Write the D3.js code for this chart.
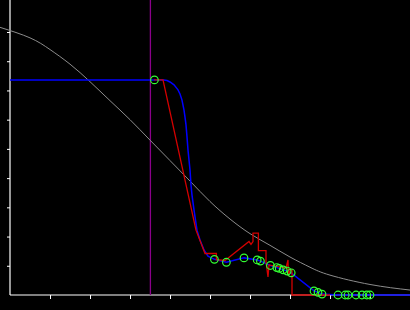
<!DOCTYPE html>
<html>
<head>
<meta charset="utf-8">
<script src="https://cdn.jsdelivr.net/npm/d3@7"></script>
<style>
  body { margin: 0; background: #000; }
  svg { display: block; }
</style>
</head>
<body>
<script>
// data (axis units: x 0..10, y 0..9)
var xTicks = [1, 2, 3, 4, 5, 6, 7, 8, 9];
var yTicks = [1, 2, 3, 4, 5, 6, 7, 8, 9];

var cutX = 3.51;

var grayX = [-0.25, 0.5, 1.0, 1.5, 2.0, 2.5, 3.0, 3.5, 4.0, 4.5, 5.0, 5.5, 6.0, 6.5, 7.0, 7.5, 8.0, 9.0, 10.0];
var grayY = [9.16, 8.8, 8.4, 7.9, 7.3, 6.65, 6.0, 5.3, 4.6, 3.9, 3.2, 2.6, 2.1, 1.7, 1.3, 0.95, 0.68, 0.36, 0.17];

var blueX = [0, 3.85, 3.925, 4.0, 4.1, 4.2, 4.25, 4.3, 4.325, 4.35, 4.375, 4.4, 4.425, 4.45, 4.475, 4.5, 4.525, 4.55, 4.6, 4.675, 4.75, 4.85, 4.95,
  5.11, 5.41, 5.85, 6.18, 6.26, 6.51, 6.67, 6.73, 6.83, 6.93, 7.03, 7.6, 7.7, 7.8, 8.2, 8.38, 8.45, 8.65, 8.8, 8.92, 9.0, 10.0];
var blueY = [7.36, 7.36, 7.34, 7.29, 7.19, 7.02, 6.88, 6.67, 6.50, 6.33, 6.09, 5.82, 5.41, 4.96, 4.62, 4.28, 3.76, 3.42, 2.91, 2.22, 1.88, 1.54, 1.33,
  1.22, 1.12, 1.27, 1.20, 1.16, 1.01, 0.94, 0.91, 0.86, 0.82, 0.76, 0.14, 0.09, 0.03, 0, 0, 0, 0, 0, 0, 0, 0];

var redX = [3.6, 3.825, 4.65, 4.875, 5.16, 5.16, 5.375, 5.975, 6.025, 6.075, 6.075, 6.21, 6.21, 6.4, 6.4, 6.45, 6.475, 6.9, 6.95, 6.96, 7.0, 7.05, 7.05, 8.0];
var redY = [7.36, 7.36, 2.22, 1.42, 1.42, 1.21, 1.18, 1.83, 1.73, 1.83, 2.12, 2.12, 1.52, 1.52, 1.13, 0.62, 1.03, 0.92, 1.20, 0.65, 0.86, 0.86, 0, 0];

var markX = [3.61, 5.11, 5.41, 5.85, 6.18, 6.26, 6.51, 6.67, 6.73, 6.83, 6.93, 7.03, 7.6, 7.7, 7.8, 8.2, 8.38, 8.45, 8.65, 8.8, 8.92, 9.0];
var markY = [7.36, 1.22, 1.12, 1.27, 1.20, 1.16, 1.01, 0.94, 0.91, 0.86, 0.82, 0.76, 0.14, 0.09, 0.03, 0, 0, 0, 0, 0, 0, 0];

var width = 410, height = 310;

var svg = d3.select("body").append("svg")
  .attr("width", width)
  .attr("height", height);

svg.append("rect").attr("width", width).attr("height", height).attr("fill", "#000");

var x = d3.scaleLinear().domain([0, 10]).range([10, 410]);
var y = d3.scaleLinear().domain([0, 9]).range([295, 32]);

// axes
var xAxis = svg.append("g")
  .attr("transform", "translate(0," + y(0) + ")")
  .call(d3.axisBottom(x).tickValues(xTicks).tickSize(4).tickFormat(""));
var yAxis = svg.append("g")
  .attr("transform", "translate(" + x(0) + ",0)")
  .call(d3.axisLeft(y).tickValues(yTicks).tickSize(3).tickFormat(""));
svg.selectAll(".domain").remove();
svg.selectAll(".tick line").attr("stroke", "#fff").attr("stroke-width", 1);

svg.append("line")
  .attr("x1", x(0)).attr("x2", x(0))
  .attr("y1", 0).attr("y2", y(0))
  .attr("stroke", "#fff").attr("stroke-width", 1.2);
svg.append("line")
  .attr("x1", x(0)).attr("x2", width)
  .attr("y1", y(0)).attr("y2", y(0))
  .attr("stroke", "#fff").attr("stroke-width", 1.2);

// vertical cut line
svg.append("line")
  .attr("x1", x(cutX)).attr("x2", x(cutX))
  .attr("y1", 0).attr("y2", y(0))
  .attr("stroke", "#8a008a").attr("stroke-width", 1.3);

function pts(xs, ys) {
  return xs.map(function(d, i) { return [d, ys[i]]; });
}

var line = d3.line()
  .x(function(d) { return x(d[0]); })
  .y(function(d) { return y(d[1]); });

svg.append("path")
  .attr("d", line.curve(d3.curveNatural)(pts(grayX, grayY)))
  .attr("fill", "none")
  .attr("stroke", "#8c8c8c")
  .attr("stroke-width", 1);

svg.append("path")
  .attr("d", line.curve(d3.curveLinear)(pts(blueX, blueY)))
  .attr("fill", "none")
  .attr("stroke", "#0000ff")
  .attr("stroke-width", 1.5);

svg.append("path")
  .attr("d", line.curve(d3.curveLinear)(pts(redX, redY)))
  .attr("fill", "none")
  .attr("stroke", "#d40000")
  .attr("stroke-width", 1.3);

svg.selectAll("circle.mark").data(pts(markX, markY))
  .enter().append("circle")
  .attr("class", "mark")
  .attr("cx", function(d) { return x(d[0]); })
  .attr("cy", function(d) { return y(d[1]); })
  .attr("r", 3.8)
  .attr("fill", "none")
  .attr("stroke", "#33ff33")
  .attr("stroke-width", 1.2);
</script>
</body>
</html>
